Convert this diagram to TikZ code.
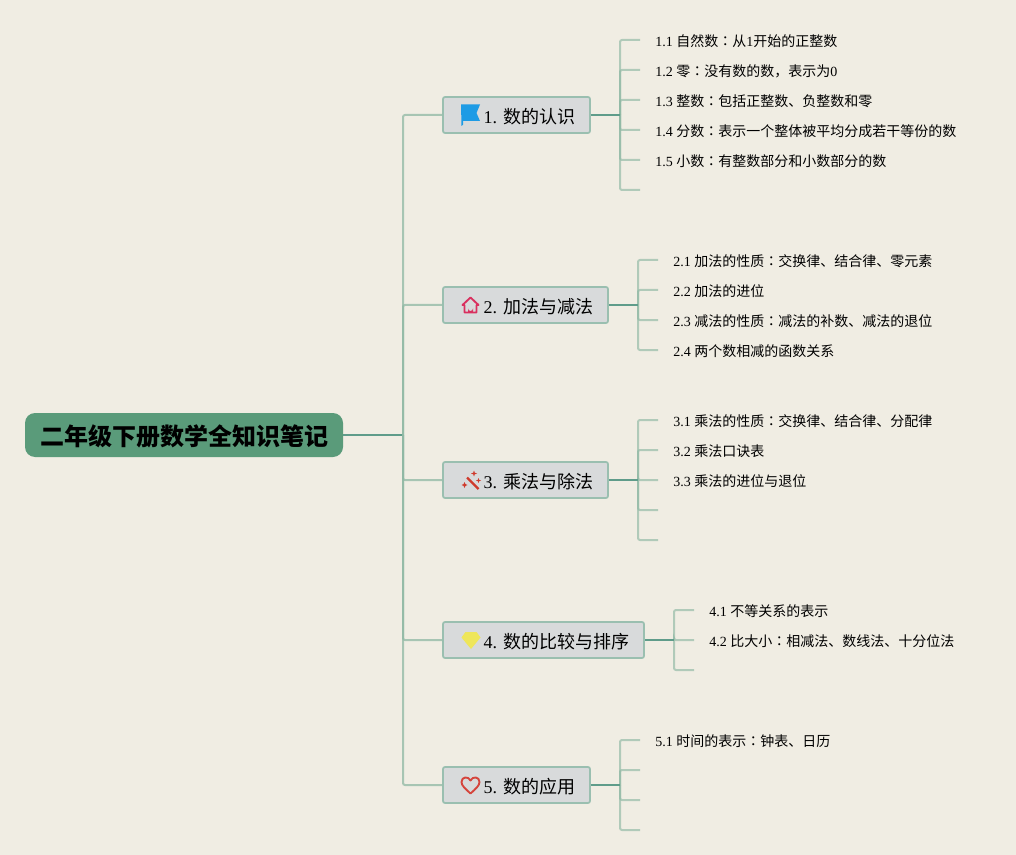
\documentclass[tikz,border=0pt]{standalone}
\usepackage{fontspec}
\setmainfont{Liberation Serif}
\newfontfamily\cjk{Noto Sans CJK SC}
\newfontfamily\cjkc{Noto Sans CJK TC}
\newcommand{\zh}[1]{{\cjk #1}}
\newcommand{\cn}{{\cjkc ：}}
\usetikzlibrary{arrows.meta,positioning,shapes}
\definecolor{paper}{HTML}{F0EDE3}
\definecolor{rootgreen}{HTML}{5A9B7A}
\definecolor{linegreen}{HTML}{5F9C8A}
\definecolor{twiggreen}{HTML}{8FB8A4}
\definecolor{boxedge}{HTML}{9ABFB0}
\definecolor{boxfill}{HTML}{D8DADB}
\definecolor{flagblue}{HTML}{1D9BE5}
\definecolor{houserose}{HTML}{D9305F}
\definecolor{wandred}{HTML}{CF3A2C}
\definecolor{gemyellow}{HTML}{EEE65A}
\definecolor{heartred}{HTML}{D5443C}
\tikzset{
  rootbox/.style={fill=rootgreen,rounded corners=7.5pt,minimum width=238.5pt,minimum height=33pt,inner sep=0pt,text height=16.5pt,text depth=.5pt,font=\fontsize{18pt}{20pt}\selectfont\bfseries},
  branchbox/.style={draw=boxedge,line width=1.3pt,fill=boxfill,rounded corners=1.5pt,minimum width=#1,text width=#1-22.5pt,align=flush right,minimum height=27pt,inner xsep=11.25pt,inner ysep=0pt,text height=13pt,text depth=.6pt,font=\fontsize{13.5pt}{16pt}\selectfont},
  leaf/.style={anchor=west,inner sep=0pt,font=\fontsize{10.5pt}{13pt}\selectfont},
  trunkline/.style={draw=twiggreen,line width=1.5pt,opacity=.75,rounded corners=1.5pt},
  stem/.style={draw=linegreen,line width=1.6pt},
  twig/.style={draw=twiggreen,line width=1.5pt,opacity=.65,rounded corners=1.5pt},
}
\begin{document}
\begin{tikzpicture}[x=.75pt,y=-.75pt]
\useasboundingbox (0,0) rectangle (1016,855);
\fill[paper] (0,0) rectangle (1016,855);
\coordinate (trunk) at (403,435);
\coordinate (j1) at (620,115);
\coordinate (j2) at (638,305);
\coordinate (j3) at (638,480);
\coordinate (j4) at (674,640);
\coordinate (j5) at (620,785);
% free ends
\coordinate (e11) at (640,40);
\coordinate (e12) at (640,70);
\coordinate (e13) at (640,100);
\coordinate (e14) at (640,130);
\coordinate (e15) at (640,160);
\coordinate (e16) at (640,190);
\coordinate (e21) at (658,260);
\coordinate (e22) at (658,290);
\coordinate (e23) at (658,320);
\coordinate (e24) at (658,350);
\coordinate (e31) at (658,420);
\coordinate (e32) at (658,450);
\coordinate (e33) at (658,480);
\coordinate (e34) at (658,510);
\coordinate (e35) at (658,540);
\coordinate (e41) at (694,610);
\coordinate (e42) at (694,640);
\coordinate (e43) at (694,670);
\coordinate (e51) at (640,740);
\coordinate (e52) at (640,770);
\coordinate (e53) at (640,800);
\coordinate (e54) at (640,830);
% connectors go under the boxes
\draw[twig] (j1) |- (e11);
\draw[twig] (j1) |- (e12);
\draw[twig] (j1) |- (e13);
\draw[twig] (j1) |- (e14);
\draw[twig] (j1) |- (e15);
\draw[twig] (j1) |- (e16);
\draw[twig] (j2) |- (e21);
\draw[twig] (j2) |- (e22);
\draw[twig] (j2) |- (e23);
\draw[twig] (j2) |- (e24);
\draw[twig] (j3) |- (e31);
\draw[twig] (j3) |- (e32);
\draw[twig] (j3) |- (e33);
\draw[twig] (j3) |- (e34);
\draw[twig] (j3) |- (e35);
\draw[twig] (j4) |- (e41);
\draw[twig] (j4) |- (e42);
\draw[twig] (j4) |- (e43);
\draw[twig] (j5) |- (e51);
\draw[twig] (j5) |- (e52);
\draw[twig] (j5) |- (e53);
\draw[twig] (j5) |- (e54);
\node[rootbox] (root) at (184,435) {\zh{二年级下册数学全知识笔记}};
\node[branchbox=110.25pt] (b1) at (516.5,115) {1. \zh{数的认识}};
\node[branchbox=123.75pt] (b2) at (525.5,305) {2. \zh{加法与减法}};
\node[branchbox=123.75pt] (b3) at (525.5,480) {3. \zh{乘法与除法}};
\node[branchbox=150.75pt] (b4) at (543.5,640) {4. \zh{数的比较与排序}};
\node[branchbox=110.25pt] (b5) at (516.5,785) {5. \zh{数的应用}};
% main branches
\draw[linegreen,line width=1.5pt] (root.east) -- (trunk);
\draw[trunkline] (trunk) |- (b1.west);
\draw[trunkline] (trunk) |- (b2.west);
\draw[trunkline] (trunk) |- (b3.west);
\draw[trunkline] (trunk) |- (b4.west);
\draw[trunkline] (trunk) |- (b5.west);
\draw[stem] (b1.east) -- (j1);
\draw[stem] (b2.east) -- (j2);
\draw[stem] (b3.east) -- (j3);
\draw[stem] (b4.east) -- (j4);
\draw[stem] (b5.east) -- (j5);
% leaf texts
\node[leaf] (t11) at (655,41) {1.1 \zh{自然数}\cn\zh{从}1\zh{开始的正整数}};
\node[leaf] (t12) at (655,71) {1.2 \zh{零}\cn\zh{没有数的数，表示为}0};
\node[leaf] (t13) at (655,101) {1.3 \zh{整数}\cn\zh{包括正整数、负整数和零}};
\node[leaf] (t14) at (655,131) {1.4 \zh{分数}\cn\zh{表示一个整体被平均分成若干等份的数}};
\node[leaf] (t15) at (655,161) {1.5 \zh{小数}\cn\zh{有整数部分和小数部分的数}};
\node[leaf] (t21) at (673,261) {2.1 \zh{加法的性质}\cn\zh{交换律、结合律、零元素}};
\node[leaf] (t22) at (673,291) {2.2 \zh{加法的进位}};
\node[leaf] (t23) at (673,321) {2.3 \zh{减法的性质}\cn\zh{减法的补数、减法的退位}};
\node[leaf] (t24) at (673,351) {2.4 \zh{两个数相减的函数关系}};
\node[leaf] (t31) at (673,421) {3.1 \zh{乘法的性质}\cn\zh{交换律、结合律、分配律}};
\node[leaf] (t32) at (673,451) {3.2 \zh{乘法口诀表}};
\node[leaf] (t33) at (673,481) {3.3 \zh{乘法的进位与退位}};
\node[leaf] (t41) at (709,611) {4.1 \zh{不等关系的表示}};
\node[leaf] (t42) at (709,641) {4.2 \zh{比大小}\cn\zh{相减法、数线法、十分位法}};
\node[leaf] (t51) at (655,741) {5.1 \zh{时间的表示}\cn\zh{钟表、日历}};
% icons
\fill[flagblue] (461,104.5) -- (480,104.5) -- (476.5,113) -- (480,121) -- (463,121) -- (463,124.5) -- (461.5,126) -- cycle;
\draw[houserose,line width=1.4pt,line join=round] (462.5,305) -- (470.5,297.5) -- (478.5,305) -- (476.5,305) -- (476.5,312.5) -- (464.5,312.5) -- (464.5,305) -- cycle;
\fill[houserose] (468,312.5) -- (468,308.5) arc[start angle=180,end angle=0,radius=2.5] -- (473,312.5) -- cycle;
\draw[wandred,line width=1.6pt] (467,477.5) -- (478.5,489);
\fill[wandred] (464.5,482) -- (465.4,484.1) -- (467.5,485) -- (465.4,485.9) -- (464.5,488) -- (463.6,485.9) -- (461.5,485) -- (463.6,484.1) -- cycle;
\fill[wandred] (474,470.5) -- (474.8,472.7) -- (477,473.5) -- (474.8,474.3) -- (474,476.5) -- (473.2,474.3) -- (471,473.5) -- (473.2,472.7) -- cycle;
\fill[wandred] (478.5,478) -- (479.2,479.8) -- (481,480.5) -- (479.2,481.2) -- (478.5,483) -- (477.8,481.2) -- (476,480.5) -- (477.8,479.8) -- cycle;
\fill[gemyellow] (465.5,632) -- (476.5,632) -- (480.5,637.5) -- (471,649) -- (461.5,637.5) -- cycle;
\draw[heartred,line width=1.4pt,line join=round] (470.5,793.5) .. controls (465,788.5) and (461.5,785.5) .. (461.5,782) .. controls (461.5,776.5) and (468.5,776) .. (470.5,780.5) .. controls (472.5,776) and (479.5,776.5) .. (479.5,782) .. controls (479.5,785.5) and (476,788.5) .. (470.5,793.5) -- cycle;
\end{tikzpicture}
\end{document}
